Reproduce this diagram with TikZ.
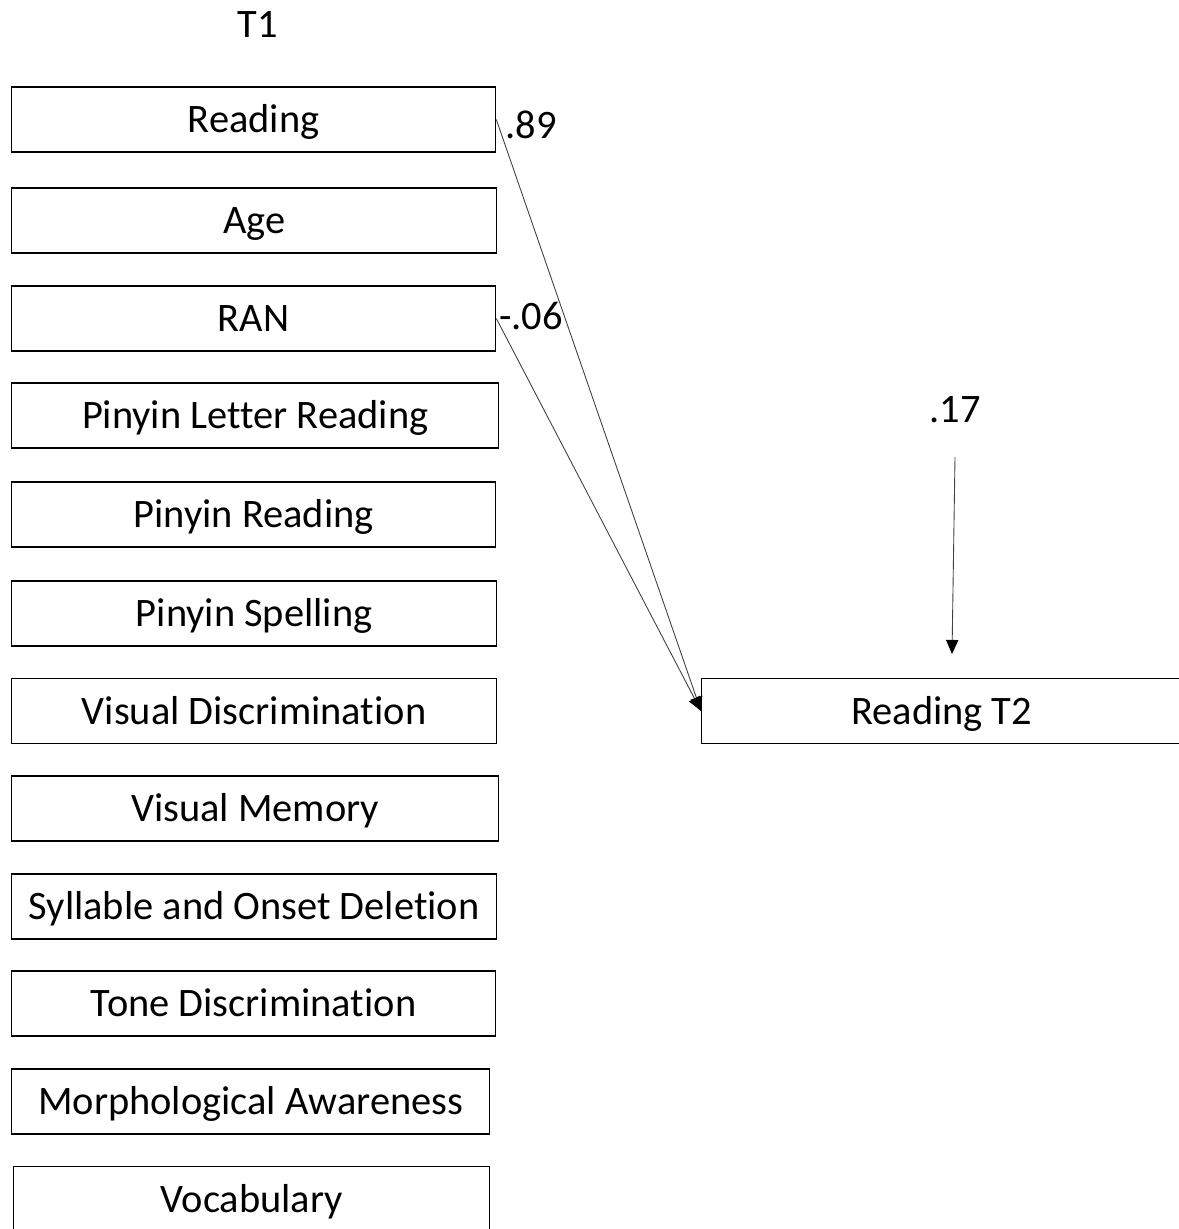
\documentclass[tikz,border=0pt]{standalone}
\usepackage{fontspec}
\setmainfont{Carlito}[Ligatures=NoCommon]
\usetikzlibrary{arrows.meta,positioning}
\definecolor{pathgray}{rgb}{0.25, 0.25, 0.25}
\tikzset{
  varbox/.style={draw, line width=0.8pt, anchor=west, minimum height=1.3cm, inner sep=0pt, text height=19pt, text depth=4pt, font=\fontsize{23}{27}\selectfont},
  coef/.style={font=\fontsize{23}{27}\selectfont},
  path/.style={pathgray, line width=0.5pt, -{Triangle[length=8pt,width=7pt,color=black]}}
}

\begin{document}
\begin{tikzpicture}[x=0.02cm,y=-0.02cm]
\useasboundingbox (0,0) rectangle (1178,1229);
\node[coef] (t1) at (258,25) {T1};
% T1 predictors
\draw (11,119.5) node (read) [varbox, minimum width=9.68cm] {Reading};
\draw (11,220.5) node (age) [varbox, minimum width=9.70cm] {Age};
\draw (11,318.5) node (ran) [varbox, minimum width=9.68cm] {RAN};
\draw (11,415.5) node (plr) [varbox, minimum width=9.74cm] {Pinyin Letter Reading};
\draw (11,514.5) node (pr) [varbox, minimum width=9.68cm] {Pinyin Reading};
\draw (11,613.5) node (ps) [varbox, minimum width=9.70cm] {Pinyin Spelling};
\draw (11,711) node (vd) [varbox, minimum width=9.70cm] {Visual Discrimination};
\draw (11,808.5) node (vm) [varbox, minimum width=9.74cm] {Visual Memory};
\draw (11,906.5) node (sod) [varbox, minimum width=9.70cm] {Syllable and Onset Deletion};
\draw (11,1003.5) node (td) [varbox, minimum width=9.68cm] {Tone Discrimination};
\draw (11,1101.5) node (ma) [varbox, minimum width=9.56cm] {Morphological Awareness};
\draw (13,1199) node (voc) [varbox, minimum width=9.52cm] {Vocabulary};
% outcome
\draw (701,711) node (rt2) [varbox, minimum width=9.60cm] {Reading T2};
% coefficients
\node[coef] (c1) at (531,125) {.89};
\node[coef] (c2) at (531,316) {-.06};
\node[coef] (c3) at (955,410) {.17};
\coordinate (e1) at (955,457);
\coordinate (e2) at (952,654);
\draw[path] (read.east) -- (rt2.west);
\draw[path] (ran.east) -- (rt2.west);
\draw[path] (e1) -- (e2);
\end{tikzpicture}
\end{document}
